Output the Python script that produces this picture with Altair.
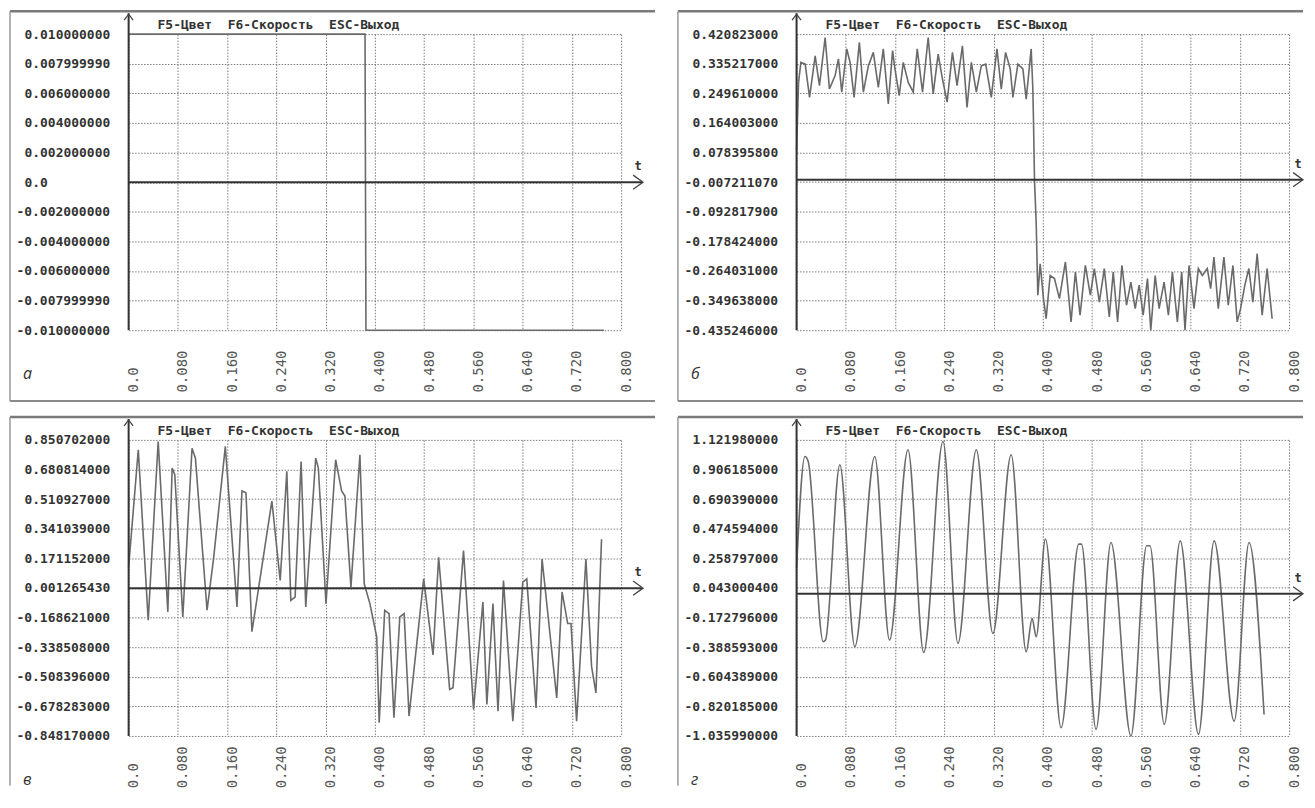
import altair as alt
import pandas as pd

W, H = 494, 297

x_ticks = [0.0, 0.08, 0.16, 0.24, 0.32, 0.40, 0.48, 0.56, 0.64, 0.72, 0.80]
title_text = "F5-Цвет\u00a0 F6-Скорость\u00a0 ESC-Выход"

# ---- panel а ----
a_t = [0.0, 0.384, 0.3855, 0.772]
a_v = [0.01, 0.01, -0.01, -0.01]
a_labels = ["0.010000000", "0.007999990", "0.006000000", "0.004000000", "0.002000000", "0.0",
            "-0.002000000", "-0.004000000", "-0.006000000", "-0.007999990", "-0.010000000"]

# ---- panel б ----
b_t = [0.0, 0.0032, 0.0070, 0.0140, 0.0211, 0.0302, 0.0372, 0.0464, 0.0534, 0.0626, 0.0680, 0.0734,
       0.0815, 0.0869, 0.0934, 0.1020, 0.1085, 0.1166, 0.1247, 0.1328, 0.1409, 0.1490, 0.1560, 0.1598,
       0.1668, 0.1733, 0.1814, 0.1895, 0.1960, 0.2046, 0.2138, 0.2219, 0.2300, 0.2370, 0.2445, 0.2532,
       0.2607, 0.2694, 0.2769, 0.2839, 0.2920, 0.3001, 0.3072, 0.3163, 0.3255, 0.3325, 0.3395, 0.3471,
       0.3514, 0.3595, 0.3676, 0.3730, 0.3811, 0.3838, 0.3849, 0.3865, 0.3892, 0.3919, 0.3957, 0.4011,
       0.4054, 0.4119, 0.4189, 0.4270, 0.4367, 0.4459, 0.4529, 0.4605, 0.4691, 0.4772, 0.4837, 0.4918,
       0.4999, 0.5080, 0.5144, 0.5215, 0.5285, 0.5360, 0.5430, 0.5501, 0.5565, 0.5630, 0.5700, 0.5754,
       0.5825, 0.5889, 0.5970, 0.6040, 0.6105, 0.6186, 0.6256, 0.6310, 0.6375, 0.6456, 0.6526, 0.6591,
       0.6672, 0.6726, 0.6780, 0.6850, 0.6942, 0.7012, 0.7088, 0.7158, 0.7212, 0.7282, 0.7347, 0.7412,
       0.7482, 0.7563, 0.7644, 0.7725]
b_v = [0.085, 0.281, 0.339, 0.334, 0.238, 0.358, 0.272, 0.411, 0.262, 0.301, 0.349, 0.253,
       0.378, 0.339, 0.238, 0.397, 0.253, 0.329, 0.368, 0.267, 0.378, 0.219, 0.373, 0.320,
       0.243, 0.339, 0.281, 0.253, 0.378, 0.253, 0.411, 0.248, 0.363, 0.291, 0.224, 0.368,
       0.272, 0.387, 0.209, 0.339, 0.253, 0.329, 0.334, 0.238, 0.378, 0.262, 0.368, 0.320,
       0.238, 0.334, 0.320, 0.233, 0.378, 0.262, 0.166, -0.002, -0.122, -0.334, -0.243, -0.344,
       -0.402, -0.277, -0.286, -0.344, -0.238, -0.411, -0.267, -0.392, -0.248, -0.334, -0.257, -0.354,
       -0.257, -0.397, -0.267, -0.411, -0.248, -0.363, -0.296, -0.373, -0.305, -0.392, -0.286, -0.435,
       -0.277, -0.373, -0.296, -0.392, -0.267, -0.411, -0.267, -0.435, -0.248, -0.373, -0.257, -0.277,
       -0.257, -0.315, -0.224, -0.373, -0.224, -0.363, -0.248, -0.411, -0.373, -0.305, -0.257, -0.354,
       -0.214, -0.392, -0.257, -0.402]
b_labels = ["0.420823000", "0.335217000", "0.249610000", "0.164003000", "0.078395800", "-0.007211070",
            "-0.092817900", "-0.178424000", "-0.264031000", "-0.349638000", "-0.435246000"]

# ---- panel в ----
c_t = [0.0, 0.0157, 0.0318, 0.0480, 0.0637, 0.0707, 0.0750, 0.0880, 0.1030, 0.1085, 0.1274, 0.1382,
       0.1571, 0.1760, 0.1841, 0.1906, 0.2003, 0.2327, 0.2462, 0.2570, 0.2634, 0.2704, 0.2802, 0.2877,
       0.3039, 0.3082, 0.3206, 0.3363, 0.3460, 0.3514, 0.3611, 0.3757, 0.3827, 0.3919, 0.4030, 0.4070,
       0.4160, 0.4230, 0.4310, 0.4405, 0.4475, 0.4555, 0.4793, 0.4945, 0.5036, 0.5215, 0.5269, 0.5440,
       0.5603, 0.5755, 0.5819, 0.5918, 0.6000, 0.6089, 0.6241, 0.6403, 0.6467, 0.6618, 0.6716, 0.6954,
       0.7041, 0.7132, 0.7186, 0.7277, 0.7428, 0.7520, 0.7591, 0.7682]
c_v = [0.120, 0.794, -0.184, 0.841, -0.136, 0.689, 0.651, -0.165, 0.803, 0.746, -0.127, 0.177,
       0.813, -0.108, 0.557, 0.547, -0.250, 0.500, 0.044, 0.670, -0.070, -0.051, 0.727, -0.108,
       0.746, 0.689, -0.089, 0.737, 0.557, 0.528, 0.006, 0.765, 0.025, -0.089, -0.279, -0.772,
       -0.127, -0.146, -0.744, -0.165, -0.146, -0.734, 0.053, -0.383, 0.177, -0.582, -0.572, 0.215,
       -0.696, -0.079, -0.668, -0.089, -0.706, 0.044, -0.763, 0.035, 0.053, -0.687, 0.167, -0.630,
       -0.022, -0.203, -0.203, -0.763, 0.167, -0.449, -0.601, 0.281]
c_labels = ["0.850702000", "0.680814000", "0.510927000", "0.341039000", "0.171152000", "0.001265430",
            "-0.168621000", "-0.338508000", "-0.508396000", "-0.678283000", "-0.848170000"]

# ---- panel г ----
d_t = [0.0, 0.0135, 0.0189, 0.0432, 0.0470, 0.0703, 0.0946, 0.1270, 0.1510, 0.1810, 0.2065, 0.2378,
       0.2622, 0.2919, 0.3189, 0.3486, 0.3730, 0.3827, 0.3892, 0.4043, 0.4297, 0.4584, 0.4627, 0.4865,
       0.5107, 0.5432, 0.5686, 0.5740, 0.5973, 0.6232, 0.6529, 0.6783, 0.7108, 0.7351, 0.7594]
d_v = [0.190, 1.001, 0.965, -0.349, -0.337, 0.941, -0.385, 1.001, -0.337, 1.050, -0.428, 1.110,
       -0.361, 1.050, -0.289, 1.013, -0.421, -0.180, -0.313, 0.399, -0.976, 0.362, 0.362, -0.988,
       0.374, -1.036, 0.350, 0.350, -0.952, 0.386, -1.024, 0.386, -0.928, 0.374, -0.879]
d_labels = ["1.121980000", "0.906185000", "0.690390000", "0.474594000", "0.258797000", "0.043000400",
            "-0.172796000", "-0.388593000", "-0.604389000", "-0.820185000", "-1.035990000"]

letters = ["а", "б", "в", "г"]

MONO = "DejaVu Sans Mono"


def y_label_expr(labels):
    parts = []
    for s in labels:
        v = float(s)
        parts.append(f"abs(datum.value - ({v!r})) < 1e-12 ? '{s}' : ")
    return "".join(parts) + "''"


def panel(ts, vs, labels, letter, interp, right_side, top_row):
    ticks = [float(s) for s in labels]
    ymin, ymax = min(ticks), max(ticks)
    df = pd.DataFrame({"t": ts, "v": vs})
    zero_df = pd.DataFrame({"t": [0.0], "v": [0.0]})
    one = pd.DataFrame({"k": [0]})
    xs = alt.Scale(domain=[0, 0.8], nice=False, zero=False)
    ys = alt.Scale(domain=[ymin, ymax], nice=False, zero=False)
    grid_kw = dict(grid=True, gridColor="#7c7c7c", gridDash=[1.5, 1.5], gridWidth=1)
    xaxis = alt.Axis(values=x_ticks,
                     labelExpr="datum.value == 0 ? '0.0' : format(datum.value, '.3f')",
                     labelAngle=270, labelAlign="left", labelBaseline="middle",
                     labelPadding=62 if top_row else 52, labelOffset=5, labelFont=MONO,
                     labelFontSize=14, labelColor="#555", labelOverlap=False, labelFlush=False,
                     ticks=False, domain=False, title=None, **grid_kw)
    yaxis = alt.Axis(values=ticks, labelExpr=y_label_expr(labels), labelAlign="left",
                     labelPadding={"condition": {"test": "datum.value < 0", "value": 113},
                                   "value": 105},
                     labelBaseline="middle", labelFont=MONO,
                     labelFontWeight="bold", labelFontSize=13, labelColor="#333",
                     labelOverlap=False, labelFlush=False, ticks=False,
                     domain=False, title=None, **grid_kw)
    yenc = alt.Y("v:Q", scale=ys, axis=yaxis)
    line = alt.Chart(df).mark_line(color="#6a6a6a", strokeWidth=1.6, interpolate=interp).encode(
        x=alt.X("t:Q", scale=xs, axis=xaxis),
        y=yenc,
    )
    tip = W + 14 if right_side else W + 22
    zbase = alt.Chart(zero_df)
    base = alt.Chart(one)
    zero_line = zbase.mark_rule(color="#333", strokeWidth=2).encode(
        x=alt.value(0), x2=alt.value(tip - 1), y=yenc)
    y_line = base.mark_rule(color="#333", strokeWidth=2).encode(
        x=alt.value(0), y=alt.value(-21), y2=alt.value(H))
    up_arrow = base.mark_point(shape="M-1,0.66L0,-0.66L1,0.66", filled=False, size=81,
                               stroke="#444", strokeWidth=1.3, opacity=1).encode(
        x=alt.value(0), y=alt.value(-17))
    right_arrow = zbase.mark_point(shape="M-0.7,-1L0.7,0L-0.7,1", filled=False, size=200,
                                   stroke="#444", strokeWidth=1.3, opacity=1).encode(
        x=alt.value(tip - 5), y=yenc)
    t_text = zbase.mark_text(text="t", font=MONO, fontWeight="bold", fontSize=12, color="#333",
                             align="center", baseline="middle", dy=-16).encode(
        x=alt.value(tip - 5), y=yenc)
    title = base.mark_text(text=title_text, font=MONO, fontWeight="bold", fontSize=13,
                           color="#333", align="left", baseline="middle").encode(
        x=alt.value(29), y=alt.value(-9))
    let = base.mark_text(text=letter, font="Open Sans", fontStyle="italic", fontSize=16,
                         color="#333", align="left", baseline="middle").encode(
        x=alt.value(-106), y=alt.value(341))
    bottom_ext = 71 if top_row else 50
    x_right = W + 14 if right_side else W + 34
    frame_top = base.mark_rule(color="#7a7a7a", strokeWidth=2.5).encode(
        x=alt.value(-119), x2=alt.value(x_right), y=alt.value(-23))
    frame_left = base.mark_rule(color="#9a9a9a", strokeWidth=1.5).encode(
        x=alt.value(-119), y=alt.value(-23), y2=alt.value(H + bottom_ext))
    layers = [line, frame_top, frame_left, zero_line, y_line, up_arrow, right_arrow,
              t_text, title, let]
    if top_row:
        frame_bottom = base.mark_rule(color="#8a8a8a", strokeWidth=2).encode(
            x=alt.value(-119), x2=alt.value(x_right), y=alt.value(H + bottom_ext))
        layers.append(frame_bottom)
    return alt.layer(*layers).properties(width=W, height=H)


pa = panel(a_t, a_v, a_labels, letters[0], "linear", False, True)
pb = panel(b_t, b_v, b_labels, letters[1], "linear", True, True)
pc = panel(c_t, c_v, c_labels, letters[2], "linear", False, False)
pd_ = panel(d_t, d_v, d_labels, letters[3], "monotone", True, False)

chart = alt.concat(pa, pb, pc, pd_, columns=2, spacing={"row": 110, "column": 176},
                   bounds="flush").properties(
    padding={"left": 0, "top": 0, "right": 0, "bottom": 0},
    background="white",
).configure_view(stroke="transparent")

chart.save("out.html", embed_options={"renderer": "svg", "actions": False})
